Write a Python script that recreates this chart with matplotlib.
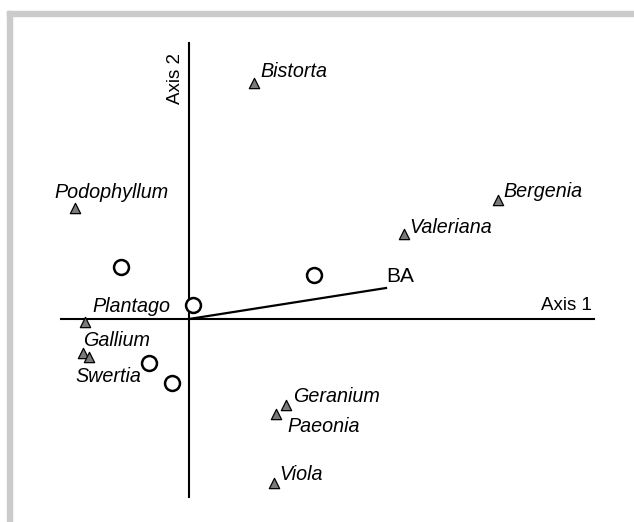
import matplotlib
matplotlib.use("Agg")
import matplotlib.pyplot as plt
from matplotlib.patches import Rectangle

plt.rcParams["font.family"] = ["Liberation Sans", "DejaVu Sans"]

# species scores (triangles)
species = ["Bistorta", "Podophyllum", "Bergenia", "Valeriana", "Plantago",
           "Gallium", "Swertia", "Geranium", "Paeonia", "Viola"]
sp_x = [0.645, -1.14, 3.09, 2.15, -1.04, -1.06, -1.00, 0.97, 0.87, 0.85]
sp_y = [2.36, 1.11, 1.19, 0.85, -0.03, -0.34, -0.38, -0.86, -0.95, -1.64]

# site scores (open circles)
site_x = [-0.68, 1.25, 0.04, -0.40, -0.17]
site_y = [0.52, 0.44, 0.14, -0.44, -0.64]

# environmental vector
ba_x, ba_y = 1.97, 0.31

# label offsets in points (left edge, vertical centre)
label_off = {
    "Bistorta": (5, 8), "Podophyllum": (-15, 11), "Bergenia": (4, 6),
    "Valeriana": (4, 5), "Plantago": (5, 11), "Gallium": (0, 9),
    "Swertia": (-10, -14), "Geranium": (5, 6), "Paeonia": (8, -9),
    "Viola": (4, 6),
}

W, H = 634, 522
fig = plt.figure(figsize=(W / 100, H / 100), dpi=100)
fig.patch.set_facecolor("white")

# grey frame on top and left
fig.patches.append(Rectangle((7 / W, 0), 5 / W, 1 - 11 / H, transform=fig.transFigure,
                             color="#cbcbcb", zorder=0))
fig.patches.append(Rectangle((7 / W, 1 - 16 / H), 1 - 7 / W, 5 / H, transform=fig.transFigure,
                             color="#cbcbcb", zorder=0))

ax = fig.add_axes([0, 0, 1, 1])
ax.set_xlim(-1.89, 4.45)
ax.set_ylim(-2.03, 3.19)
ax.axis("off")

# axes through the origin
ax.plot([-1.28, 4.05], [0, 0], color="black", lw=1.5, zorder=1)
ax.plot([0, 0], [-1.78, 2.76], color="black", lw=1.5, zorder=1)
ax.text(4.03, 0.14, "Axis 1", fontsize=13.5, ha="right", va="center")
ax.text(-0.13, 2.40, "Axis 2", fontsize=13.5, ha="center", va="center", rotation=90)

# BA vector
ax.plot([0, ba_x], [0, ba_y], color="black", lw=1.6, zorder=2)
ax.annotate("BA", (ba_x, ba_y), xytext=(0, 8), textcoords="offset points",
            fontsize=15, ha="left", va="center")

ax.scatter(site_x, site_y, s=115, facecolor="white", edgecolor="black",
           linewidth=1.8, zorder=3)
ax.scatter(sp_x, sp_y, marker="^", s=55, facecolor="#7a7a7a", edgecolor="black",
           linewidth=0.9, zorder=4)

for name, x, y in zip(species, sp_x, sp_y):
    dx, dy = label_off[name]
    ax.annotate(name, (x, y), xytext=(dx, dy), textcoords="offset points",
                fontsize=14.2, style="italic", ha="left", va="center")

fig.savefig("out.png", dpi=100)
